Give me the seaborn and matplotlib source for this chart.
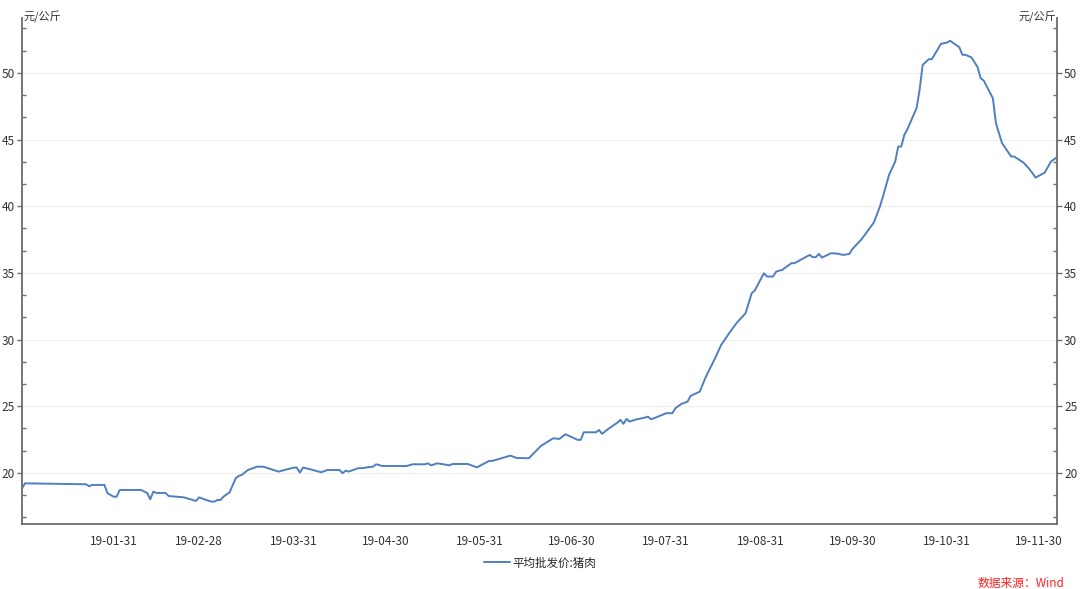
import pandas as pd
import seaborn as sns
import matplotlib.pyplot as plt
import matplotlib.dates as mdates
from matplotlib.ticker import MultipleLocator, FixedLocator

# -------- data --------
dates = [
    "2019-01-01", "2019-01-02", "2019-01-08", "2019-01-22", "2019-01-23", "2019-01-24",
    "2019-01-28", "2019-01-29", "2019-01-31", "2019-02-01", "2019-02-02", "2019-02-09",
    "2019-02-11", "2019-02-12", "2019-02-13", "2019-02-14", "2019-02-17", "2019-02-18",
    "2019-02-23", "2019-02-24", "2019-02-26", "2019-02-27", "2019-02-28", "2019-03-02",
    "2019-03-04", "2019-03-05", "2019-03-06", "2019-03-07", "2019-03-08", "2019-03-10",
    "2019-03-12", "2019-03-13", "2019-03-14", "2019-03-16", "2019-03-19", "2019-03-21",
    "2019-03-26", "2019-03-29", "2019-03-31", "2019-04-01", "2019-04-02", "2019-04-03",
    "2019-04-05", "2019-04-09", "2019-04-11", "2019-04-15", "2019-04-16", "2019-04-17",
    "2019-04-18", "2019-04-21", "2019-04-23", "2019-04-24", "2019-04-26", "2019-04-27",
    "2019-04-29", "2019-05-07", "2019-05-09", "2019-05-13", "2019-05-14", "2019-05-15",
    "2019-05-17", "2019-05-19", "2019-05-21", "2019-05-22", "2019-05-26", "2019-05-27",
    "2019-05-30", "2019-06-03", "2019-06-04", "2019-06-07", "2019-06-10", "2019-06-12",
    "2019-06-16", "2019-06-20", "2019-06-24", "2019-06-26", "2019-06-28", "2019-07-02",
    "2019-07-03", "2019-07-04", "2019-07-08", "2019-07-09", "2019-07-10", "2019-07-12",
    "2019-07-15", "2019-07-16", "2019-07-17", "2019-07-18", "2019-07-19", "2019-07-21",
    "2019-07-24", "2019-07-25", "2019-07-26", "2019-07-27", "2019-07-31", "2019-08-02",
    "2019-08-03", "2019-08-05", "2019-08-07", "2019-08-08", "2019-08-11", "2019-08-13",
    "2019-08-16", "2019-08-18", "2019-08-21", "2019-08-23", "2019-08-26", "2019-08-28",
    "2019-08-29", "2019-09-01", "2019-09-02", "2019-09-04", "2019-09-05", "2019-09-07",
    "2019-09-10", "2019-09-11", "2019-09-16", "2019-09-17", "2019-09-18", "2019-09-19",
    "2019-09-20", "2019-09-23", "2019-09-25", "2019-09-27", "2019-09-29", "2019-09-30",
    "2019-10-03", "2019-10-07", "2019-10-09", "2019-10-10", "2019-10-12", "2019-10-14",
    "2019-10-15", "2019-10-16", "2019-10-17", "2019-10-18", "2019-10-21", "2019-10-22",
    "2019-10-23", "2019-10-25", "2019-10-26", "2019-10-29", "2019-10-31", "2019-11-01",
    "2019-11-04", "2019-11-05", "2019-11-06", "2019-11-08", "2019-11-10", "2019-11-11",
    "2019-11-12", "2019-11-15", "2019-11-16", "2019-11-18", "2019-11-21", "2019-11-22",
    "2019-11-25", "2019-11-27", "2019-11-29", "2019-12-02", "2019-12-04", "2019-12-06",
]
pork_price = [
    18.85, 19.22, 19.2, 19.15, 19.0, 19.1,
    19.1, 18.48, 18.22, 18.22, 18.72, 18.72,
    18.5, 18.02, 18.6, 18.5, 18.5, 18.27,
    18.17, 18.1, 17.97, 17.9, 18.17, 18.0,
    17.85, 17.85, 17.97, 17.97, 18.22, 18.55,
    19.6, 19.78, 19.85, 20.22, 20.47, 20.47,
    20.1, 20.28, 20.4, 20.4, 20.02, 20.4,
    20.3, 20.05, 20.22, 20.22, 19.98, 20.17,
    20.1, 20.35, 20.37, 20.42, 20.47, 20.65,
    20.52, 20.52, 20.65, 20.65, 20.72, 20.57,
    20.72, 20.65, 20.57, 20.67, 20.67, 20.67,
    20.42, 20.9, 20.9, 21.1, 21.3, 21.12,
    21.1, 22.03, 22.6, 22.55, 22.9, 22.48,
    22.48, 23.05, 23.05, 23.22, 22.93, 23.3,
    23.77, 23.98, 23.68, 24.05, 23.85, 24.0,
    24.15, 24.22, 24.03, 24.1, 24.48, 24.48,
    24.85, 25.18, 25.35, 25.78, 26.1, 27.22,
    28.6, 29.6, 30.6, 31.23, 31.98, 33.48,
    33.68, 34.98, 34.73, 34.73, 35.1, 35.23,
    35.73, 35.73, 36.35, 36.18, 36.18, 36.43,
    36.15, 36.48, 36.45, 36.35, 36.43, 36.8,
    37.53, 38.78, 39.98, 40.73, 42.36, 43.35,
    44.48, 44.48, 45.36, 45.78, 47.36, 48.73,
    50.6, 51.03, 51.03, 52.18, 52.28, 52.41,
    51.93, 51.36, 51.36, 51.16, 50.43, 49.6,
    49.43, 48.1, 46.23, 44.73, 43.73, 43.73,
    43.28, 42.78, 42.15, 42.53, 43.35, 43.68,
]
month_ends = ["2019-01-31", "2019-02-28", "2019-03-31", "2019-04-30", "2019-05-31",
              "2019-06-30", "2019-07-31", "2019-08-31", "2019-09-30", "2019-10-31",
              "2019-11-30"]
series_name = "平均批发价:猪肉"
unit_label = "元/公斤"
source_note = "数据来源：Wind"

df = pd.DataFrame({"date": pd.to_datetime(dates), "price": pork_price})

# -------- style --------
sns.set_style("white")
plt.rcParams["font.family"] = ["Noto Sans CJK SC", "DejaVu Sans"]
plt.rcParams["axes.unicode_minus"] = False

fig = plt.figure(figsize=(10.8, 5.89), dpi=100)
ax = fig.add_axes([22 / 1080, 1 - 524 / 589, (1057 - 22) / 1080, (524 - 18) / 589])

sns.lineplot(data=df, x="date", y="price", ax=ax, color="#4f7fc0",
             linewidth=1.4, label=series_name)

ax.set_xlim(df["date"].iloc[0], df["date"].iloc[-1])
ax.set_ylim(16.17, 54.12)
ax.set_xlabel("")
ax.set_ylabel("")

# x ticks: month ends, minor ticks at thirds between them
me = pd.to_datetime(["2018-12-31"] + month_ends + ["2019-12-31"])
minor = []
for a, b in zip(me[:-1], me[1:]):
    minor += [a + (b - a) / 3, a + 2 * (b - a) / 3]
ax.xaxis.set_major_locator(FixedLocator(mdates.date2num(pd.to_datetime(month_ends))))
ax.xaxis.set_minor_locator(FixedLocator(mdates.date2num(pd.DatetimeIndex(minor))))
ax.xaxis.set_major_formatter(mdates.DateFormatter("%y-%m-%d"))

ax.yaxis.set_major_locator(MultipleLocator(5))
ax.yaxis.set_minor_locator(MultipleLocator(5 / 3))

ax.tick_params(axis="x", which="major", direction="out", length=5, width=1,
               color="#6b6b6b", labelsize=8.5, labelcolor="#333333", pad=3)
ax.tick_params(axis="x", which="minor", direction="out", length=2.5, width=1,
               color="#6b6b6b")
ax.tick_params(axis="y", which="major", direction="out", length=3.6, width=1,
               color="#6b6b6b", labelsize=8.5, labelcolor="#333333", pad=1.5,
               left=True, right=True, labelleft=True, labelright=True)
ax.tick_params(axis="y", which="minor", direction="in", length=3, width=1,
               color="#6b6b6b", left=True, right=True)

ax.grid(axis="y", which="major", color="#f0f0f0", linewidth=0.8)
ax.set_axisbelow(True)

for side in ["left", "right", "bottom"]:
    ax.spines[side].set_color("#6b6b6b")
    ax.spines[side].set_linewidth(1.3)
ax.spines["top"].set_visible(False)

fig.text(23 / 1080, 1 - 17 / 589, unit_label, ha="left", va="center",
         fontsize=8, color="#333333")
fig.text(1056 / 1080, 1 - 17 / 589, unit_label, ha="right", va="center",
         fontsize=8, color="#333333")

ax.legend_.remove()
fig.legend(loc="center", bbox_to_anchor=(0.5, 1 - 563 / 589), frameon=False,
           fontsize=8.3, handlelength=2.2, handletextpad=0.2)

fig.text(1064 / 1080, 1 - 583 / 589, source_note, ha="right", va="center",
         fontsize=8.5, color="#ff2020", style="italic")

fig.savefig("out.png", dpi=100)
